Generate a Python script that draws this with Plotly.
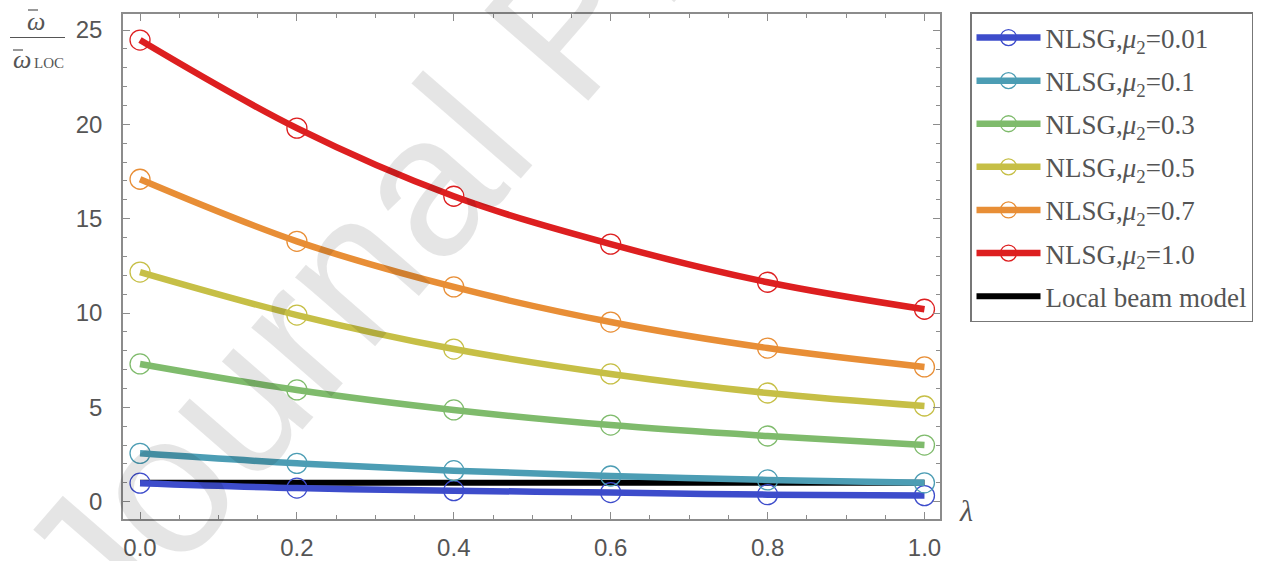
import plotly.graph_objects as go

lam = [0.0, 0.2, 0.4, 0.6, 0.8, 1.0]
mu_labels = ["0.01", "0.1", "0.3", "0.5", "0.7", "1.0"]
series = {
    "0.01": [0.98, 0.72, 0.58, 0.48, 0.37, 0.32],
    "0.1": [2.56, 2.03, 1.64, 1.36, 1.15, 1.0],
    "0.3": [7.30, 5.92, 4.86, 4.06, 3.48, 3.0],
    "0.5": [12.17, 9.89, 8.09, 6.77, 5.76, 5.07],
    "0.7": [17.09, 13.8, 11.38, 9.52, 8.14, 7.14],
    "1.0": [24.47, 19.8, 16.19, 13.65, 11.63, 10.2],
}
local_x = [0.0, 1.0]
local_y = [1.0, 1.0]
colors = ["#3d4ccb", "#4c9db4", "#7fbb6c", "#c6bf46", "#e88e36", "#dd1f20"]
x_ticks = [0.0, 0.2, 0.4, 0.6, 0.8, 1.0]
x_ticklabels = ["0.0", "0.2", "0.4", "0.6", "0.8", "1.0"]
y_ticks = [0, 5, 10, 15, 20, 25]

W, H = 1283, 561
L, R, T, B = 123, 940, 14, 519  # plot frame in page pixels


def px(x):
    return (x - L) / (R - L)


def py(y):
    return (B - y) / (B - T)


fig = go.Figure()
fig.add_trace(go.Scatter(
    x=local_x, y=local_y, mode="lines", name="Local beam model",
    line=dict(color="black", width=6), legendrank=100, legendgroup="g7",
))
for i, (mu, c) in enumerate(zip(mu_labels, colors)):
    fig.add_trace(go.Scatter(
        x=lam, y=series[mu], mode="lines+markers",
        name=f"NLSG,<i>μ</i><sub>2</sub>=" + mu,
        line=dict(color=c, width=6.5, shape="spline", smoothing=1.0),
        marker=dict(symbol="circle-open", size=20, color=c, line=dict(width=1.3, color=c)),
        legendrank=i + 1, legendgroup=f"g{i}",
    ))

axis_common = dict(
    showline=True, linecolor="#8c8c8c", linewidth=1.5, mirror="ticks",
    ticks="inside", ticklen=7, tickwidth=1, tickcolor="#8c8c8c",
    showgrid=False, zeroline=False, automargin=False,
    tickfont=dict(family="Liberation Sans, Arial", size=24, color="#555555"),
)
fig.update_xaxes(
    range=[-0.0217, 1.0198], tickvals=x_ticks, ticktext=x_ticklabels,
    minor=dict(ticks="inside", dtick=0.05, ticklen=4, tickcolor="#8c8c8c"),
    ticklabelstandoff=6, **axis_common,
)
fig.update_yaxes(
    range=[-0.92, 25.85], tickvals=y_ticks,
    minor=dict(ticks="inside", dtick=1, ticklen=4, tickcolor="#8c8c8c"),
    ticklabelstandoff=14, **axis_common,
)

serif = "Liberation Serif, Times New Roman, serif"
gray = "#555555"
fig.update_layout(
    template="none",
    width=W, height=H,
    margin=dict(l=L, r=W - R, t=T, b=H - B, pad=0, autoexpand=False),
    plot_bgcolor="white", paper_bgcolor="white",
    showlegend=True,
    legend=dict(
        x=px(970), y=py(12), xanchor="left", yanchor="top",
        bordercolor="#777777", borderwidth=1.5, bgcolor="white",
        font=dict(family=serif, size=27, color=gray),
        traceorder="grouped", tracegroupgap=5, itemwidth=64, maxheight=700,
    ),
    annotations=[
        dict(text="<i>ω</i>", x=px(36), y=py(21), xref="paper", yref="paper",
             xanchor="center", yanchor="middle",
             showarrow=False, font=dict(family=serif, size=26, color=gray)),
        dict(text="<i>ω</i>", x=px(22), y=py(60), xref="paper", yref="paper",
             xanchor="center", yanchor="middle",
             showarrow=False, font=dict(family=serif, size=26, color=gray)),
        dict(text="LOC", x=px(32), y=py(63), xref="paper", yref="paper",
             xanchor="left", yanchor="middle",
             showarrow=False, font=dict(family=serif, size=15, color=gray)),
        dict(text="<i>λ</i>", x=px(966), y=py(510), xref="paper", yref="paper",
             xanchor="center", yanchor="middle",
             showarrow=False, font=dict(family=serif, size=30, color=gray)),
        dict(text="Journal Pre-proof", x=px(565), y=py(21), xref="paper", yref="paper",
             xanchor="center", yanchor="middle",
             showarrow=False, textangle=-49,
             font=dict(family="Liberation Sans, Arial", size=200, color="rgba(0,0,0,0.1)")),
    ],
    shapes=[
        dict(type="line", xref="paper", yref="paper", x0=px(10), x1=px(65),
             y0=py(37.5), y1=py(37.5), line=dict(color=gray, width=1.2)),
        dict(type="line", xref="paper", yref="paper", x0=px(28), x1=px(38),
             y0=py(10), y1=py(10), line=dict(color=gray, width=1.2)),
        dict(type="line", xref="paper", yref="paper", x0=px(13), x1=px(23),
             y0=py(50), y1=py(50), line=dict(color=gray, width=1.2)),
    ],
)

fig.write_html(
    "out.html",
    config={"displayModeBar": False},
    post_script="document.body.style.margin='0';document.body.style.overflow='hidden';",
)
